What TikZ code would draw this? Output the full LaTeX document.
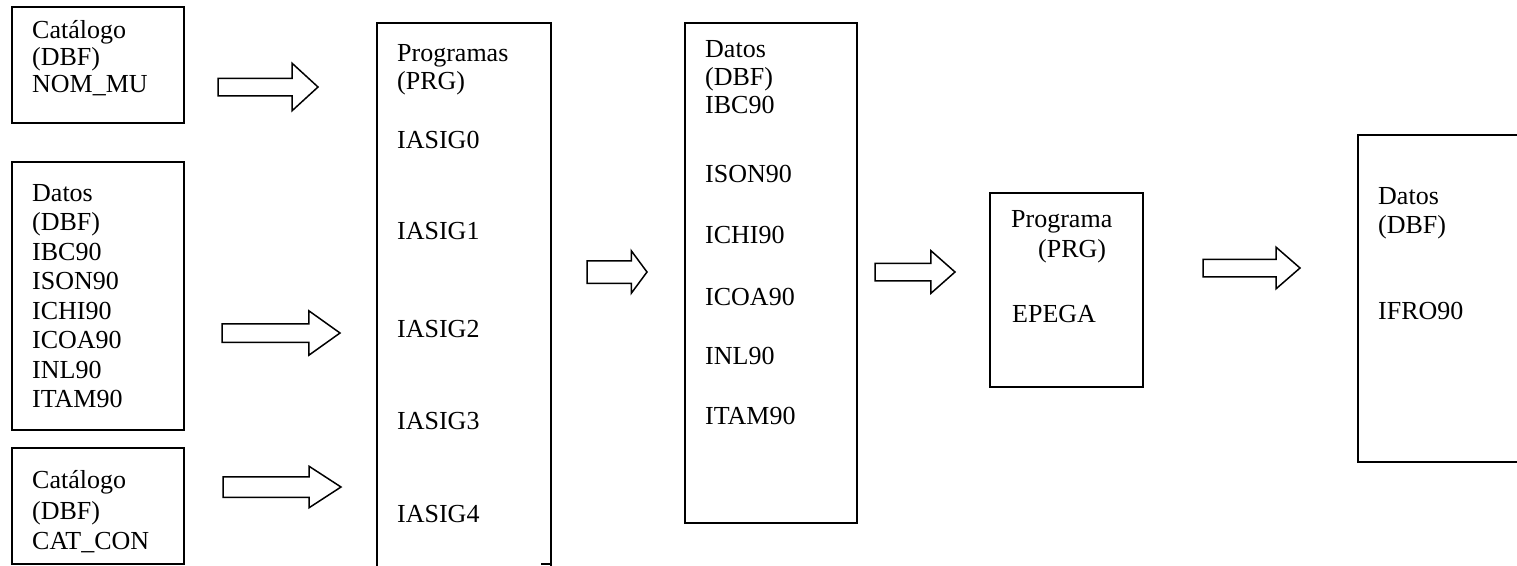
\documentclass[tikz,border=0pt]{standalone}
\usepackage{fontspec}
\setmainfont{Liberation Serif}
\usetikzlibrary{shapes.arrows}
\begin{document}
\begin{tikzpicture}[x=1pt,y=-1pt,
  box/.style={draw,line width=1.8pt,rectangle,inner sep=0pt,outer sep=0pt,anchor=north west},
  lbl/.style={anchor=base west,inner sep=0pt,font=\fontsize{26}{30}\selectfont},
  flow/.style={draw,line width=1.5pt,shape=single arrow,anchor=tail,
    single arrow head indent=0pt,inner xsep=0pt,outer sep=0pt,minimum width=0pt}]
\useasboundingbox (0,0) rectangle (1517,565);
% boxes
\node[box,minimum width=172,minimum height=116] (A) at (12,7) {};
\node[box,minimum width=172,minimum height=268] (B) at (12,162) {};
\node[box,minimum width=172,minimum height=116] (C) at (12,448) {};
\node[box,minimum width=174,minimum height=580] (D) at (377,23) {};
\node[box,minimum width=172,minimum height=500] (E) at (685,23) {};
\node[box,minimum width=153,minimum height=194] (F) at (990,193) {};
\node[box,minimum width=190,minimum height=327] (G) at (1358,135) {};
\draw[line width=1.8pt] (D.east |- 0,564) -- ++(-10,0);
% box A
\node[lbl] (a1t) at (32,38) {Catálogo};
\node[lbl] (a2t) at (32,65) {(DBF)};
\node[lbl] (a3t) at (32,92) {NOM\_MU};
% box B
\node[lbl] (b1t) at (32,201) {Datos};
\node[lbl] (b2t) at (32,230.5) {(DBF)};
\node[lbl] (b3t) at (32,260) {IBC90};
\node[lbl] (b4t) at (32,289.5) {ISON90};
\node[lbl] (b5t) at (32,319) {ICHI90};
\node[lbl] (b6t) at (32,348.5) {ICOA90};
\node[lbl] (b7t) at (32,378) {INL90};
\node[lbl] (b8t) at (32,407.5) {ITAM90};
% box C
\node[lbl] (c1t) at (32,488) {Catálogo};
\node[lbl] (c2t) at (32,519) {(DBF)};
\node[lbl] (c3t) at (32,549) {CAT\_CON};
% box D
\node[lbl] (d1t) at (397,61) {Programas};
\node[lbl] (d2t) at (397,89) {(PRG)};
\node[lbl] (d3t) at (397,148) {IASIG0};
\node[lbl] (d4t) at (397,239) {IASIG1};
\node[lbl] (d5t) at (397,337) {IASIG2};
\node[lbl] (d6t) at (397,429) {IASIG3};
\node[lbl] (d7t) at (397,522) {IASIG4};
% box E
\node[lbl] (e1t) at (705,57) {Datos};
\node[lbl] (e2t) at (705,85) {(DBF)};
\node[lbl] (e3t) at (705,113) {IBC90};
\node[lbl] (e4t) at (705,182) {ISON90};
\node[lbl] (e5t) at (705,243) {ICHI90};
\node[lbl] (e6t) at (705,305) {ICOA90};
\node[lbl] (e7t) at (705,364) {INL90};
\node[lbl] (e8t) at (705,424) {ITAM90};
% box F
\node[lbl] (f1t) at (1011,227) {Programa};
\node[lbl] (f2t) at (1038,257) {(PRG)};
\node[lbl] (f3t) at (1012,322) {EPEGA};
% box G
\node[lbl] (g1t) at (1378,204) {Datos};
\node[lbl] (g2t) at (1378,233) {(DBF)};
\node[lbl] (g3t) at (1378,319) {IFRO90};
% block arrows
\node[flow,minimum height=100,inner ysep=8,single arrow head extend=15,single arrow tip angle=85] (ar1) at (218,87) {};
\node[flow,minimum height=118,inner ysep=8.5,single arrow head extend=13,single arrow tip angle=71] (ar2) at (222,333) {};
\node[flow,minimum height=118,inner ysep=9.5,single arrow head extend=10.5,single arrow tip angle=66] (ar3) at (223,487) {};
\node[flow,minimum height=60,inner ysep=10.5,single arrow head extend=10,single arrow tip angle=107] (ar4) at (587,272) {};
\node[flow,minimum height=80,inner ysep=8,single arrow head extend=12.5,single arrow tip angle=83] (ar5) at (875,272) {};
\node[flow,minimum height=97,inner ysep=8,single arrow head extend=12,single arrow tip angle=82] (ar6) at (1203,268) {};
\end{tikzpicture}
\end{document}
